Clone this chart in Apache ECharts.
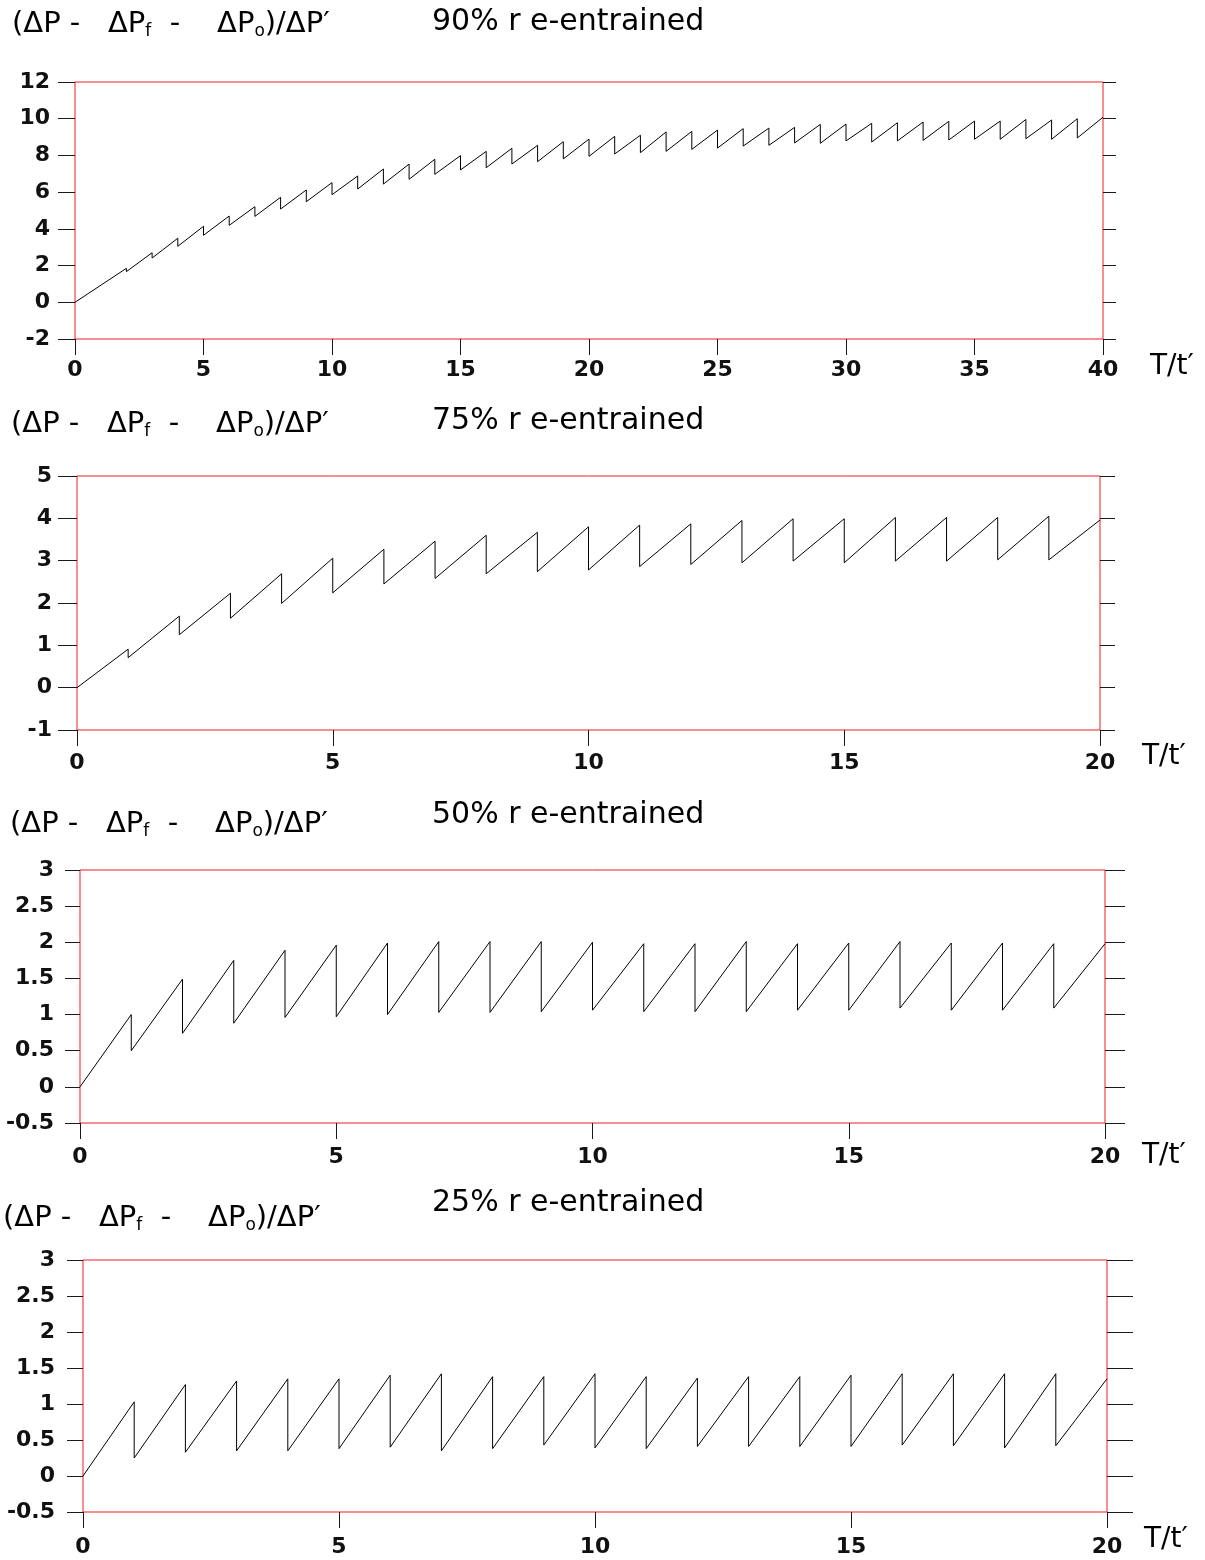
<!DOCTYPE html>
<html>
<head>
<meta charset="utf-8">
<script src="https://cdn.jsdelivr.net/npm/echarts@6/dist/echarts.min.js"></script>
<style>
html,body{margin:0;padding:0;background:#fff;}
#chart{width:1205px;height:1560px;}
</style>
</head>
<body>
<div id="chart"></div>
<script>
// ---- Data ----
const panelTitles = ['90% r e-entrained', '75% r e-entrained', '50% r e-entrained', '25% r e-entrained'];
const xAxisName = 'T/t\u2032';

// 90% panel (x 0..40)
const drop90 = [2,3,4,5,6,7,8,9,10,11,12,13,14,15,16,17,18,19,20,21,22,23,24,25,26,27,28,29,30,31,32,33,34,35,36,37,38,39];
const peak90 = [1.85,2.70,3.49,4.14,4.70,5.21,5.72,6.12,6.52,6.88,7.26,7.53,7.79,7.99,8.22,8.39,8.55,8.75,8.89,9.04,9.10,9.28,9.31,9.38,9.46,9.49,9.53,9.69,9.71,9.75,9.78,9.82,9.86,9.87,9.87,9.96,9.93,10.0];
const trough90 = [1.67,2.41,3.05,3.65,4.19,4.68,5.08,5.48,5.86,6.17,6.44,6.70,6.97,7.21,7.33,7.53,7.66,7.81,7.95,8.08,8.15,8.22,8.33,8.40,8.51,8.55,8.68,8.66,8.79,8.73,8.79,8.82,8.84,8.88,8.88,8.91,8.88,8.95];
const end90 = [40, 10.08];

// 75% panel (x 0..20)
const drop75 = [1,2,3,4,5,6,7,8,9,10,11,12,13,14,15,16,17,18,19];
const peak75 = [0.91,1.69,2.23,2.69,3.06,3.27,3.46,3.60,3.67,3.80,3.84,3.87,3.95,3.99,3.99,4.02,4.02,4.02,4.05];
const trough75 = [0.71,1.25,1.64,1.99,2.24,2.45,2.58,2.69,2.74,2.78,2.86,2.91,2.95,2.99,2.95,2.99,2.99,3.02,3.02];
const end75 = [20, 3.96];

// 50% panel
const drop50 = [1,2,3,4,5,6,7,8,9,10,11,12,13,14,15,16,17,18,19];
const peak50 = [1.00,1.49,1.75,1.89,1.96,1.99,2.01,2.01,2.01,2.00,1.98,1.98,2.01,1.98,1.99,2.01,1.99,1.99,1.98];
const trough50 = [0.50,0.74,0.88,0.96,0.97,1.00,1.03,1.03,1.04,1.06,1.04,1.04,1.04,1.06,1.06,1.09,1.06,1.06,1.09];
const end50 = [20, 1.98];

// 25% panel
const drop25 = [1,2,3,4,5,6,7,8,9,10,11,12,13,14,15,16,17,18,19];
const peak25 = [1.03,1.27,1.32,1.35,1.35,1.40,1.42,1.38,1.38,1.42,1.38,1.36,1.38,1.38,1.40,1.42,1.42,1.42,1.42];
const trough25 = [0.25,0.33,0.35,0.35,0.38,0.40,0.35,0.38,0.43,0.39,0.38,0.41,0.41,0.41,0.41,0.43,0.42,0.39,0.42];
const end25 = [20, 1.35];

// axis ranges / ticks
const xRanges = [[0,40,5],[0,20,5],[0,20,5],[0,20,5]];
const yRanges = [[-2,12,2],[-1,5,1],[-0.5,3,0.5],[-0.5,3,0.5]];

// ---- build ----
function saw(drops, peaks, troughs, end) {
  const pts = [[0, 0]];
  for (let i = 0; i < drops.length; i++) {
    pts.push([drops[i], peaks[i]]);
    pts.push([drops[i], troughs[i]]);
  }
  pts.push(end);
  return pts;
}
const seriesData = [
  saw(drop90, peak90, trough90, end90),
  saw(drop75, peak75, trough75, end75),
  saw(drop50, peak50, trough50, end50),
  saw(drop25, peak25, trough25, end25)
];

const RED = '#ee1c24';
const TICK = '#1a1a1a';
const FONT = 'DejaVu Sans';

// layout per panel
const grids = [
  {left: 75, top: 82, width: 1028, height: 257},
  {left: 77, top: 476, width: 1023, height: 254},
  {left: 80, top: 870, width: 1025, height: 253},
  {left: 83, top: 1260, width: 1024, height: 252}
];
const leftTick = [17, 19, 15, 16];
const rightTick = [13, 15, 20, 26];
const yLabelMargin = [25, 25, 26, 28];
const xLabelMargin = [20, 22, 23, 24];
const leftTitlePos = [[12, 10], [11, 410], [10, 810], [3, 1204]];
const rightTitlePos = [[432, 7], [432, 406], [432, 800], [432, 1188]];
const xNamePos = [[1150, 352], [1142, 742], [1142, 1141], [1144, 1525]];

const option = {
  backgroundColor: '#fff',
  animation: false,
  title: [],
  grid: [],
  xAxis: [],
  yAxis: [],
  series: []
};

for (let p = 0; p < 4; p++) {
  option.grid.push(Object.assign({
    containLabel: false, show: true, backgroundColor: 'transparent',
    borderColor: RED, borderWidth: 1
  }, grids[p]));
  option.title.push({
    left: leftTitlePos[p][0], top: leftTitlePos[p][1], padding: 0,
    text: '{m|(\u0394P -   \u0394P}{s|f}{m|  -    \u0394P}{s|o}{m|)/\u0394P\u2032}',
    textStyle: {
      fontFamily: FONT, fontWeight: 'normal', color: '#000',
      rich: {
        m: {fontFamily: FONT, fontSize: 29, lineHeight: 30, color: '#000', verticalAlign: 'top', padding: [0, 0, 6, 0]},
        s: {fontFamily: FONT, fontSize: 17, lineHeight: 18, color: '#000', verticalAlign: 'bottom'}
      }
    }
  });
  option.title.push({
    left: rightTitlePos[p][0], top: rightTitlePos[p][1], padding: 0,
    text: panelTitles[p],
    textStyle: {fontFamily: FONT, fontSize: 30, lineHeight: 30, fontWeight: 'normal', color: '#000'}
  });
  option.title.push({
    left: xNamePos[p][0], top: xNamePos[p][1], padding: 0,
    text: xAxisName,
    textStyle: {fontFamily: FONT, fontSize: 28, lineHeight: 30, fontWeight: 'normal', color: '#000'}
  });
  const xr = xRanges[p], yr = yRanges[p];
  option.xAxis.push({
    type: 'value', gridIndex: p, position: 'bottom',
    min: xr[0], max: xr[1], interval: xr[2],
    axisLine: {show: false, onZero: false},
    axisTick: {show: true, inside: false, length: 16, lineStyle: {color: TICK, width: 1}},
    axisLabel: {show: true, margin: xLabelMargin[p], fontFamily: FONT, fontWeight: 'bold', fontSize: 22, color: '#111'},
    splitLine: {show: false}
  });
  option.yAxis.push({
    type: 'value', gridIndex: p, position: 'left',
    min: yr[0], max: yr[1], interval: yr[2],
    axisLine: {show: false, onZero: false},
    axisTick: {show: true, inside: false, length: leftTick[p], lineStyle: {color: TICK, width: 1}},
    axisLabel: {show: true, margin: yLabelMargin[p], fontFamily: FONT, fontWeight: 'bold', fontSize: 22, color: '#111'},
    splitLine: {show: false}
  });
  option.yAxis.push({
    type: 'value', gridIndex: p, position: 'right',
    min: yr[0], max: yr[1], interval: yr[2],
    axisLine: {show: false, onZero: false},
    axisTick: {show: true, inside: false, length: rightTick[p], lineStyle: {color: TICK, width: 1}},
    axisLabel: {show: false}, splitLine: {show: false}
  });
  option.series.push({
    type: 'line', xAxisIndex: p, yAxisIndex: p * 2,
    data: seriesData[p], showSymbol: false, symbol: 'none', smooth: false,
    lineStyle: {color: '#000', width: 1}, silent: true, z: 3
  });
}

const chart = echarts.init(document.getElementById('chart'), null, {renderer: 'canvas'});
chart.setOption(option);
</script>
</body>
</html>
